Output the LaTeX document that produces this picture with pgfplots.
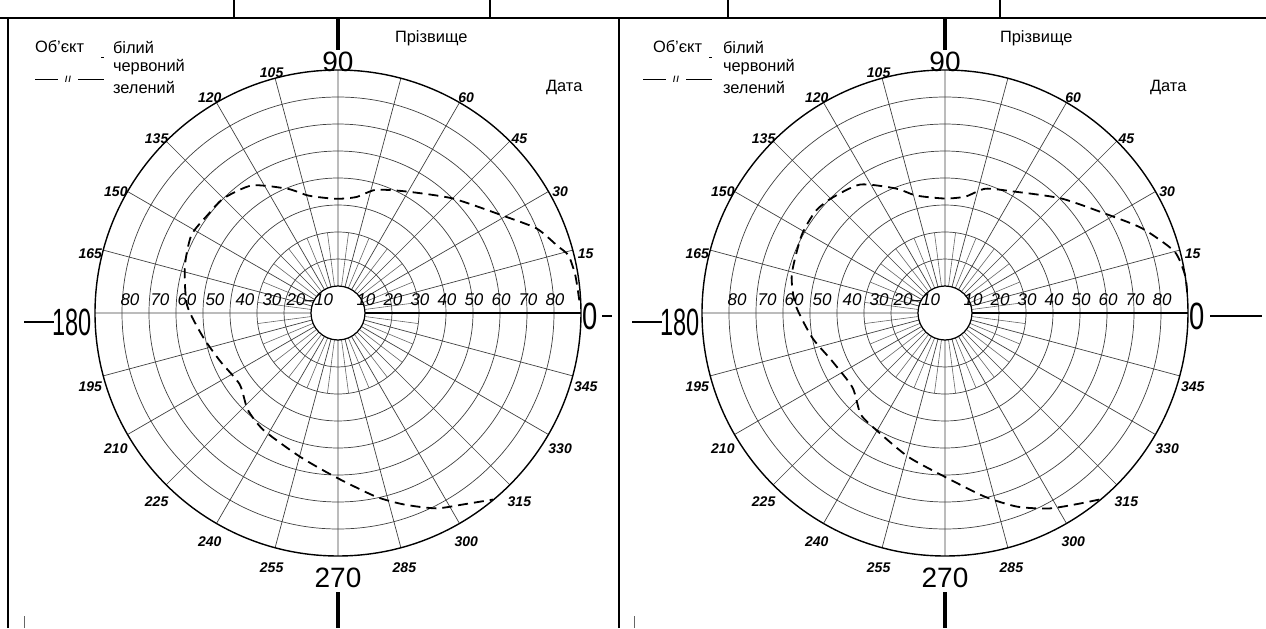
\documentclass[border=0pt]{standalone}
\usepackage{pgfplots}
\pgfplotsset{compat=1.18}
\usepgfplotslibrary{polar}
\usepackage{graphicx}
\usepackage{fontspec}
\setmainfont{Liberation Sans}
\newcommand{\angf}{\fontsize{7}{8}\selectfont\itshape\bfseries}
\newcommand{\radf}{\fontsize{8.5}{9}\selectfont\itshape}
\newcommand{\txtf}{\fontsize{8.2}{9}\selectfont}
\newcommand{\bigf}{\fontsize{14}{14}\selectfont}
\newcommand{\hugef}{\fontsize{19}{19}\selectfont}
\pgfplotsset{perim/.style={
  scale only axis, width=243pt, height=243pt, anchor=center,
  xmin=0, xmax=360, ymin=0, ymax=90,
  xtick={0,15,...,345}, ytick={10,20,...,80},
  xticklabels={}, yticklabels={},
  major tick length=0pt,
  grid=major, major grid style={black!75, line width=0.35pt},
  axis line style={black, line width=0.7pt},
  clip=false}}
\pgfplotstableread{
ang r
3 89.5
9 89
14 88
17 85
23 80
30 71.5
45 60
61 51.5
73 47.7
81 43.5
91 42.3
104 44.8
112 49.6
124 57
135 60
143 60.4
152 61.5
163 59.3
177 56
190 50.8
202 47.2
216 45
227 49
237.6 51.4
255 55
269 60.7
281.6 69.4
289 75
296.7 81
303.6 85
309.7 89.8
}\leftfield
\pgfplotstableread{
ang r
5 90
9 90
15 88
23.2 79.5
30.6 71
44.5 60.5
60.5 51.7
72 48.4
80 43.8
90 42.4
103.8 44.8
111.4 49.5
123.4 57
134.7 59.8
141.9 61
151.6 60.4
166 58.5
177 55.4
190.6 50
202.8 45.5
218.9 44
230.2 48.8
239.7 50.3
255.7 55
270 60.7
282.2 69.6
290.5 76.6
298 82
304.6 86
310 90
}\rightfield
\begin{document}
\begin{tikzpicture}
\path[use as bounding box] (0,0) rectangle (633pt,314pt);
% ---------- left chart ----------
\begin{polaraxis}[perim, at={(169pt,157.5pt)}]
\pgfplotsinvokeforeach{7.5,22.5,...,352.5}{\draw[black!60, line width=0.3pt] (axis cs:#1,10) -- (axis cs:#1,30);}
\draw[black, line width=0.6pt, fill=white] (axis cs:0,0) circle[radius=13.5pt];
\addplot[black, line width=0.9pt, dash pattern=on 5pt off 3pt, smooth, tension=0.4] table[x=ang, y=r] {\leftfield};
\pgfplotsinvokeforeach{15,30,45,60,105,120,135,150,165,195,210,225,240,255,285,300,315,330,345}{\node[font=\angf, yshift=-3.5pt] at (axis cs:#1,95) {#1};}
\end{polaraxis}

% ---------- right chart ----------
\begin{polaraxis}[perim, at={(472.5pt,157.5pt)}]
\pgfplotsinvokeforeach{7.5,22.5,...,352.5}{\draw[black!60, line width=0.3pt] (axis cs:#1,10) -- (axis cs:#1,30);}
\draw[black, line width=0.6pt, fill=white] (axis cs:0,0) circle[radius=13.5pt];
\addplot[black, line width=0.9pt, dash pattern=on 5pt off 3pt, smooth, tension=0.4] table[x=ang, y=r] {\rightfield};
\pgfplotsinvokeforeach{15,30,45,60,105,120,135,150,165,195,210,225,240,255,285,300,315,330,345}{\node[font=\angf, yshift=-3.5pt] at (axis cs:#1,95) {#1};}
\end{polaraxis}

\begin{scope}[x=0.5pt,y=0.5pt]
% table borders
\draw[line width=1pt] (0,610) -- (1266,610);
\foreach \xx in {234,490,728,1000} \draw[line width=0.6pt] (\xx,610) -- (\xx,628);
\draw[line width=0.8pt] (8,0) -- (8,610);
\draw[line width=1.1pt] (619,0) -- (619,610);
\draw[black!60, line width=0.5pt] (24,0) -- (24,12);
\draw[black!60, line width=0.5pt] (634,0) -- (634,12);
% left chart texts
\foreach \xx/\lab in {366/10,393/20,420/30,447/40,474/50,501/60,528/70,555/80} \node[font=\radf] at (\xx,328) {\lab};
\foreach \xx/\lab in {296/20,272/30,245/40,215/50,187/60,160/70,130/80} \node[font=\radf] at (\xx,328) {\lab};
\node[font=\radf] at (319,328) {\textendash10};
\draw[line width=1.6pt] (338,610) -- (338,578);
\draw[line width=1.6pt] (338,36) -- (338,0);
\node[font=\bigf] at (338,566) {90};
\node[font=\bigf] at (338,50) {270};
\draw[line width=1.4pt] (24,306) -- (54,306);
\node[font=\hugef] at (72,306) {\scalebox{0.62}[1]{180}};
\node[font=\hugef] at (590,312) {\scalebox{0.72}[1]{0}};
\draw[line width=0.9pt] (602,312) -- (612,312);
\node[font=\txtf, anchor=west] at (28,581) {Об'єкт};
\node[font=\txtf, anchor=west] at (106,581) {білий};
\node[font=\txtf, anchor=west] at (106,561) {червоний};
\node[font=\txtf, anchor=west] at (106,541) {зелений};
\draw[line width=0.5pt] (35,548) -- (58,548);
\draw[line width=0.5pt] (78,548) -- (104,548);
\node[font=\fontsize{6}{6}\selectfont\itshape] at (68,549) {ıı};
\draw[line width=0.5pt] (101,570) -- (104,570);
\node[font=\txtf, anchor=west] at (388,590) {Прізвище};
\node[font=\txtf, anchor=west] at (539,541) {Дата};
% right chart texts
\foreach \xx/\lab in {973/10,1000/20,1027/30,1054/40,1081/50,1108/60,1135/70,1162/80} \node[font=\radf] at (\xx,328) {\lab};
\foreach \xx/\lab in {903/20,879/30,852/40,822/50,794/60,767/70,737/80} \node[font=\radf] at (\xx,328) {\lab};
\node[font=\radf] at (926,328) {\textendash10};
\draw[line width=1.6pt] (945,610) -- (945,578);
\draw[line width=1.6pt] (945,36) -- (945,0);
\node[font=\bigf] at (945,566) {90};
\node[font=\bigf] at (945,50) {270};
\draw[line width=1.4pt] (632,306) -- (662,306);
\node[font=\hugef] at (680,306) {\scalebox{0.62}[1]{180}};
\node[font=\hugef] at (1197,312) {\scalebox{0.72}[1]{0}};
\draw[line width=0.9pt] (1210,312) -- (1262,312);
\node[font=\txtf, anchor=west] at (646,581) {Об'єкт};
\node[font=\txtf, anchor=west] at (716,581) {білий};
\node[font=\txtf, anchor=west] at (716,561) {червоний};
\node[font=\txtf, anchor=west] at (716,541) {зелений};
\draw[line width=0.5pt] (643,548) -- (666,548);
\draw[line width=0.5pt] (686,548) -- (712,548);
\node[font=\fontsize{6}{6}\selectfont\itshape] at (676,549) {ıı};
\draw[line width=0.5pt] (709,570) -- (712,570);
\node[font=\txtf, anchor=west] at (993,590) {Прізвище};
\node[font=\txtf, anchor=west] at (1143,541) {Дата};
\end{scope}
\end{tikzpicture}
\end{document}
